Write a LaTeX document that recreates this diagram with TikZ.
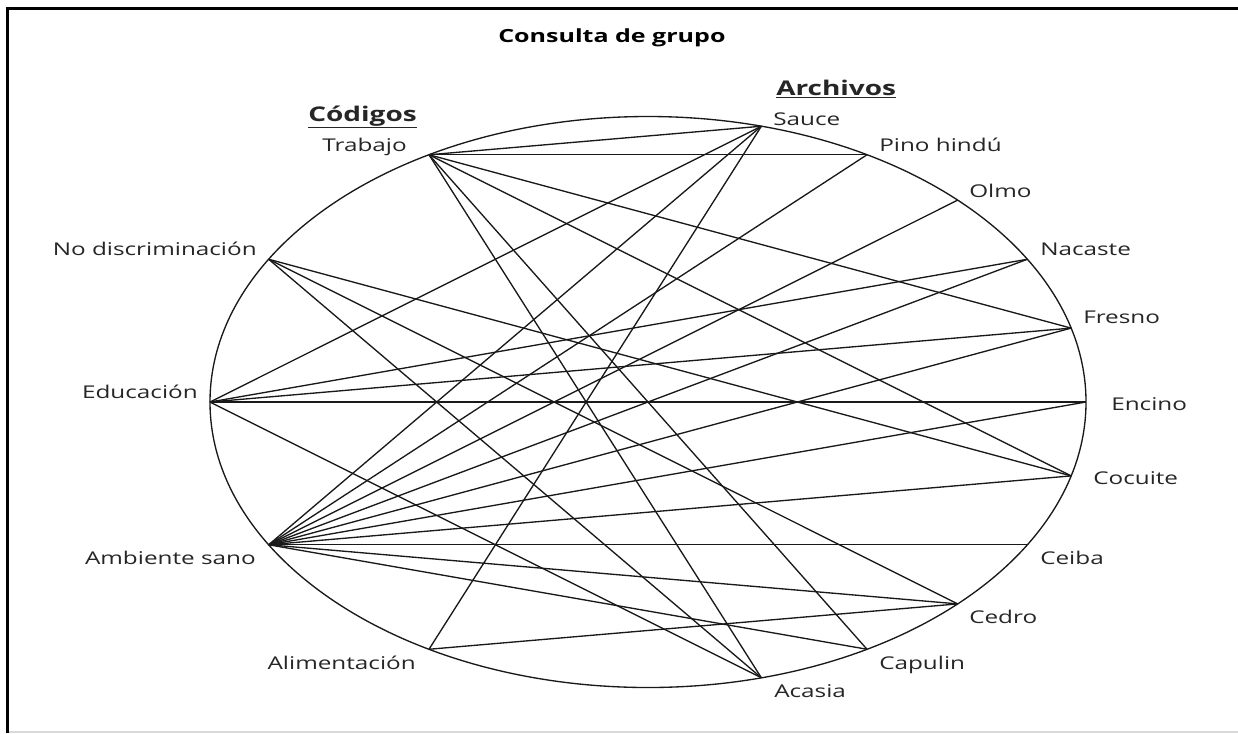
\documentclass[tikz,border=0pt]{standalone}
\usepackage{fontspec}
\usepackage{graphicx}
\setmainfont{Open Sans}
\newcommand{\widetxt}[1]{\scalebox{1.38}[1]{#1}}
\begin{document}
\begin{tikzpicture}[x=0.75pt,y=-0.75pt,
  lab/.style={font=\fontsize{13.2}{16}\selectfont, inner sep=0pt, text=black!85},
  labl/.style={lab, anchor=base east},
  labr/.style={lab, anchor=base west},
  head/.style={font=\fontsize{13.6}{16}\bfseries\selectfont, inner sep=0pt, anchor=base west},
  subhead/.style={font=\fontsize{15.2}{18}\bfseries\selectfont, inner sep=0pt, text=black!85},
  link/.style={line width=1pt, black!90},
  frame/.style={line width=2.4pt, black}]
\useasboundingbox (0,0) rectangle (1238,733);
\fill[white] (0,0) rectangle (1238,733);
% frame
\draw[frame] (7.5,733) -- (7.5,8.5) -- (1238,8.5);
\draw[black!15, line width=1pt] (9,732) -- (1238,732);
% circle
\draw[link] (648,402) ellipse [x radius=328.5pt, y radius=214.125pt];
% points on the circle
\coordinate (trabajo) at ({648+438*cos(120)},{402-285.5*sin(120)});
\coordinate (nodisc)  at ({648+438*cos(150)},{402-285.5*sin(150)});
\coordinate (educ)    at ({648+438*cos(180)},{402-285.5*sin(180)});
\coordinate (amb)     at ({648+438*cos(210)},{402-285.5*sin(210)});
\coordinate (alim)    at ({648+438*cos(240)},{402-285.5*sin(240)});
\coordinate (sauce)   at ({648+438*cos(75)},{402-285.5*sin(75)});
\coordinate (pino)    at ({648+438*cos(60)},{402-285.5*sin(60)});
\coordinate (olmo)    at ({648+438*cos(45)},{402-285.5*sin(45)});
\coordinate (nacaste) at ({648+438*cos(30)},{402-285.5*sin(30)});
\coordinate (fresno)  at ({648+438*cos(15)},{402-285.5*sin(15)});
\coordinate (encino)  at ({648+438*cos(0)},{402-285.5*sin(0)});
\coordinate (cocuite) at ({648+438*cos(-15)},{402-285.5*sin(-15)});
\coordinate (ceiba)   at ({648+438*cos(-30)},{402-285.5*sin(-30)});
\coordinate (cedro)   at ({648+438*cos(-45)},{402-285.5*sin(-45)});
\coordinate (capulin) at ({648+438*cos(-60)},{402-285.5*sin(-60)});
\coordinate (acasia)  at ({648+438*cos(-75)},{402-285.5*sin(-75)});
% connectors
\foreach \b in {sauce,pino,fresno,cocuite,capulin,acasia} \draw[link] (trabajo) -- (\b);
\foreach \b in {cocuite,cedro,acasia} \draw[link] (nodisc) -- (\b);
\foreach \b in {sauce,nacaste,fresno,encino,acasia} \draw[link] (educ) -- (\b);
\foreach \b in {sauce,pino,olmo,nacaste,fresno,encino,cocuite,ceiba,cedro,capulin} \draw[link] (amb) -- (\b);
\foreach \b in {sauce,cedro} \draw[link] (alim) -- (\b);
% titles
\node[head] (title) at (498,42) {\widetxt{Consulta de grupo}};
\node[subhead, anchor=base east] (hcod) at (417,121) {\widetxt{\underline{Códigos}}};
\node[subhead, anchor=base west] (harch) at (776,95) {\widetxt{\underline{Archivos}}};
% labels
\node[labl] (ltrabajo) at (407,151) {\widetxt{Trabajo}};
\node[labl] (lnodisc) at (257,255) {\widetxt{No discriminación}};
\node[labl] (leduc) at (198,398) {\widetxt{Educación}};
\node[labl] (lamb) at (256,564) {\widetxt{Ambiente sano}};
\node[labl] (lalim) at (416,669) {\widetxt{Alimentación}};
\node[labr] (lsauce) at (773,125) {\widetxt{Sauce}};
\node[labr] (lpino) at (879,151) {\widetxt{Pino hindú}};
\node[labr] (lolmo) at (969,197) {\widetxt{Olmo}};
\node[labr] (lnacaste) at (1040,255) {\widetxt{Nacaste}};
\node[labr] (lfresno) at (1083,323) {\widetxt{Fresno}};
\node[labr] (lencino) at (1111,410) {\widetxt{Encino}};
\node[labr] (lcocuite) at (1093,484) {\widetxt{Cocuite}};
\node[labr] (lceiba) at (1040,564) {\widetxt{Ceiba}};
\node[labr] (lcedro) at (969,623) {\widetxt{Cedro}};
\node[labr] (lcapulin) at (879,669) {\widetxt{Capulin}};
\node[labr] (lacasia) at (774,697) {\widetxt{Acasia}};
\end{tikzpicture}
\end{document}
